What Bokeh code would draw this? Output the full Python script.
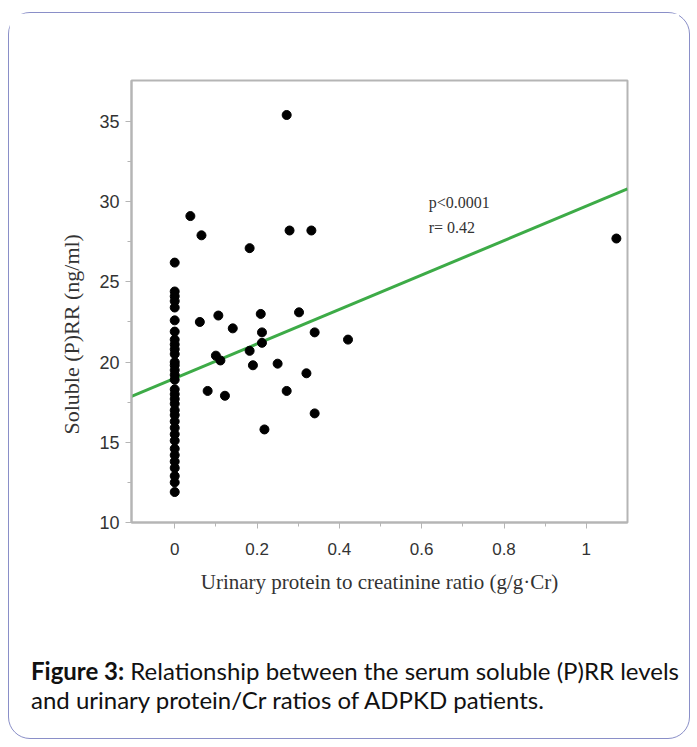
from bokeh.plotting import figure
from bokeh.models import FixedTicker, Label, ColumnDataSource, Title, Div
from bokeh.layouts import column
from bokeh.embed import file_html
from bokeh.resources import INLINE

# ---- data ----
zero_col_y = [26.2, 24.4, 24.1, 23.8, 23.4, 22.6, 21.9, 21.4, 21.1, 20.8, 20.5,
              20.0, 19.8, 19.5, 19.2, 18.9, 18.3, 18.0, 17.7, 17.4, 17.0, 16.7,
              16.3, 15.9, 15.5, 15.1, 14.6, 14.2, 13.8, 13.4, 12.9, 12.5, 11.9]
other_x = [0.272, 0.038, 0.065, 0.182, 0.279, 0.332, 0.061, 0.106, 0.141, 0.209,
           0.212, 0.212, 0.302, 0.340, 0.421, 0.100, 0.111, 0.182, 0.190, 0.250,
           0.320, 0.080, 0.122, 0.272, 0.340, 0.218, 1.073]
other_y = [35.4, 29.1, 27.9, 27.1, 28.2, 28.2, 22.5, 22.9, 22.1, 23.0,
           21.85, 21.2, 23.1, 21.85, 21.4, 20.4, 20.1, 20.7, 19.8, 19.9,
           19.3, 18.2, 17.9, 18.2, 16.8, 15.8, 27.7]
fit_x = [-0.105, 1.10]
fit_y = [17.86, 30.79]

x_ticks = [0, 0.2, 0.4, 0.6, 0.8, 1.0]
x_tick_labels = ["0", "0.2", "0.4", "0.6", "0.8", "1"]
x_minor = [0.1, 0.3, 0.5, 0.7, 0.9]
y_ticks = [10, 15, 20, 25, 30, 35]
y_minor = [12.5, 17.5, 22.5, 27.5, 32.5]

stats_lines = ["p<0.0001", "r= 0.42"]
caption_bold = "Figure 3:"
caption_line1 = "Relationship between the serum soluble (P)RR levels"
caption_line2 = "and urinary protein/Cr ratios of ADPKD patients."

xs = [0.0] * len(zero_col_y) + other_x
ys = zero_col_y + other_y
src = ColumnDataSource(dict(x=xs, y=ys))

p = figure(width=670, height=626, output_backend="svg", toolbar_location=None,
           x_range=(-0.105, 1.10), y_range=(10, 37.55),
           min_border_left=122, min_border_right=52, min_border_top=67,
           min_border_bottom=117)

p.grid.visible = False
p.outline_line_color = "#b5b5b5"
p.outline_line_width = 2

p.line(fit_x, fit_y, line_color="#3dab47", line_width=3)
p.scatter("x", "y", source=src, size=9, color="black")

for ax in (p.xaxis[0], p.yaxis[0]):
    ax.axis_line_color = "#b5b5b5"
    ax.axis_line_width = 2
    ax.major_tick_line_color = "#b5b5b5"
    ax.minor_tick_line_color = "#b5b5b5"
    ax.major_tick_in = 0
    ax.major_tick_out = 6
    ax.minor_tick_in = 0
    ax.minor_tick_out = 4
    ax.major_label_text_font = "Liberation Sans"
    ax.major_label_text_color = "#333333"
    ax.axis_label_text_font = "Liberation Serif"
    ax.axis_label_text_font_style = "normal"
    ax.axis_label_text_color = "#333333"

p.xaxis.ticker = FixedTicker(ticks=x_ticks, minor_ticks=x_minor)
p.xaxis.major_label_overrides = {t: l for t, l in zip(x_ticks, x_tick_labels)}
p.xaxis.major_label_text_font_size = "17px"
p.xaxis.major_label_standoff = 14
p.xaxis.axis_label = "Urinary protein to creatinine ratio (g/g\u00b7Cr)"
p.xaxis.axis_label_text_font_size = "21px"
p.xaxis.axis_label_standoff = 12

p.yaxis.ticker = FixedTicker(ticks=y_ticks, minor_ticks=y_minor)
p.yaxis.major_label_text_font_size = "18px"
p.yaxis.major_label_standoff = 6

p.add_layout(Title(text="Soluble (P)RR (ng/ml)", align="left", offset=88,
                   standoff=25, text_font="Liberation Serif", text_font_style="normal",
                   text_font_size="22px", text_color="#333333"), "left")

p.add_layout(Label(x=0.617, y=30.45, text=stats_lines[0], text_font="Liberation Serif",
                   text_font_size="16px", text_color="#333333", text_baseline="top"))
p.add_layout(Label(x=0.617, y=28.9, text=stats_lines[1], text_font="Liberation Serif",
                   text_font_size="16px", text_color="#333333", text_baseline="top"))

caption = Div(width=670, height=89,
              text=('<div style="font-family: Lato; font-size: 24px; line-height: 29px; '
                    'color: #111111; padding: 12px 0 0 17px; white-space: nowrap;">'
                    f'<b>{caption_bold}</b> {caption_line1}<br>{caption_line2}</div>'))

card = column(p, caption, spacing=0,
              styles={"border": "1.5px solid #8a8fc8", "border-radius": "22px",
                      "background": "white"})
page = column(card, styles={"padding": "12px 0 0 8px"})

open("out.html", "w").write(file_html(page, INLINE))
